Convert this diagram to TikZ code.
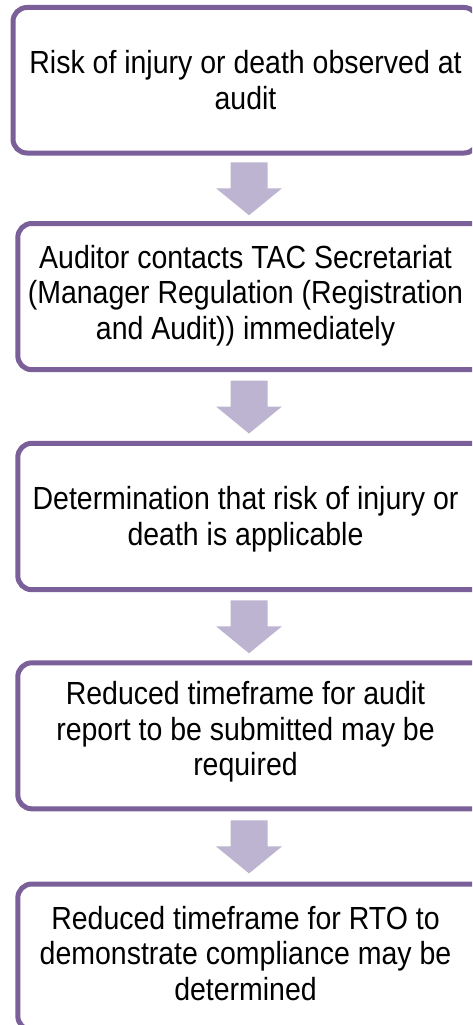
\documentclass[tikz,border=0pt]{standalone}
\usepackage{fontspec}
\setmainfont[FakeStretch=0.89]{Liberation Sans}
\usetikzlibrary{calc}
\definecolor{boxline}{HTML}{7A5F98}
\definecolor{arrowfill}{HTML}{BDB4D1}
\newcommand{\flowarrow}[1]{%
  \fill[flow] ($(#1)+(-18.5,-26)$) -- ($(#1)+(18.5,-26)$) -- ($(#1)+(18.5,0)$) --
    ($(#1)+(33,0)$) -- ($(#1)+(0,27)$) -- ($(#1)+(-33,0)$) -- ($(#1)+(-18.5,0)$) -- cycle;}
\begin{document}
\begin{tikzpicture}[x=1pt,y=-1pt,
  box/.style={draw=boxline, line width=5pt, rounded corners=14pt, fill=white, inner sep=0pt},
  txt/.style={align=center, font=\fontsize{32}{35.5}\selectfont, inner sep=0pt, text=black},
  flow/.style={fill=arrowfill, draw=none}]
\useasboundingbox (0,0) rectangle (472,1025);
\clip (0,0) rectangle (472,1025);

\node[box, minimum width=465pt, minimum height=145.5pt] (b1) at (245.5,80.25) {};
\node[box, minimum width=468.2pt, minimum height=146.2pt] (b2) at (251.9,296.6) {};
\node[box, minimum width=468.2pt, minimum height=146.4pt] (b3) at (251.9,516.5) {};
\node[box, minimum width=468.2pt, minimum height=146pt] (b4) at (251.9,735.8) {};
\node[box, minimum width=468.2pt, minimum height=146pt] (b5) at (251.9,957) {};

\node[txt] (t1) at (245.5,80.2) {Risk of injury or death observed at\\audit};
\node[txt] (t2) at (245.5,295.7) {Auditor contacts TAC Secretariat\\(Manager Regulation (Registration\\and Audit)) immediately};
\node[txt] (t3) at (245.5,519.2) {Determination that risk of injury or\\death is applicable};
\node[txt] (t4) at (245.5,732.2) {Reduced timeframe for audit\\report to be submitted may be\\required};
\node[txt] (t5) at (245.5,953.4) {Reduced timeframe for RTO to\\demonstrate compliance may be\\determined};

\coordinate (ax) at (249,0);
\coordinate (g1) at ($(b1.south)!0.5!(b2.north)$);
\coordinate (g2) at ($(b2.south)!0.5!(b3.north)$);
\coordinate (g3) at ($(b3.south)!0.5!(b4.north)$);
\coordinate (g4) at ($(b4.south)!0.5!(b5.north)$);
\coordinate (m1) at (ax |- g1);
\coordinate (m2) at (ax |- g2);
\coordinate (m3) at (ax |- g3);
\coordinate (m4) at (ax |- g4);
\flowarrow{m1}
\flowarrow{m2}
\flowarrow{m3}
\flowarrow{m4}
\end{tikzpicture}
\end{document}
